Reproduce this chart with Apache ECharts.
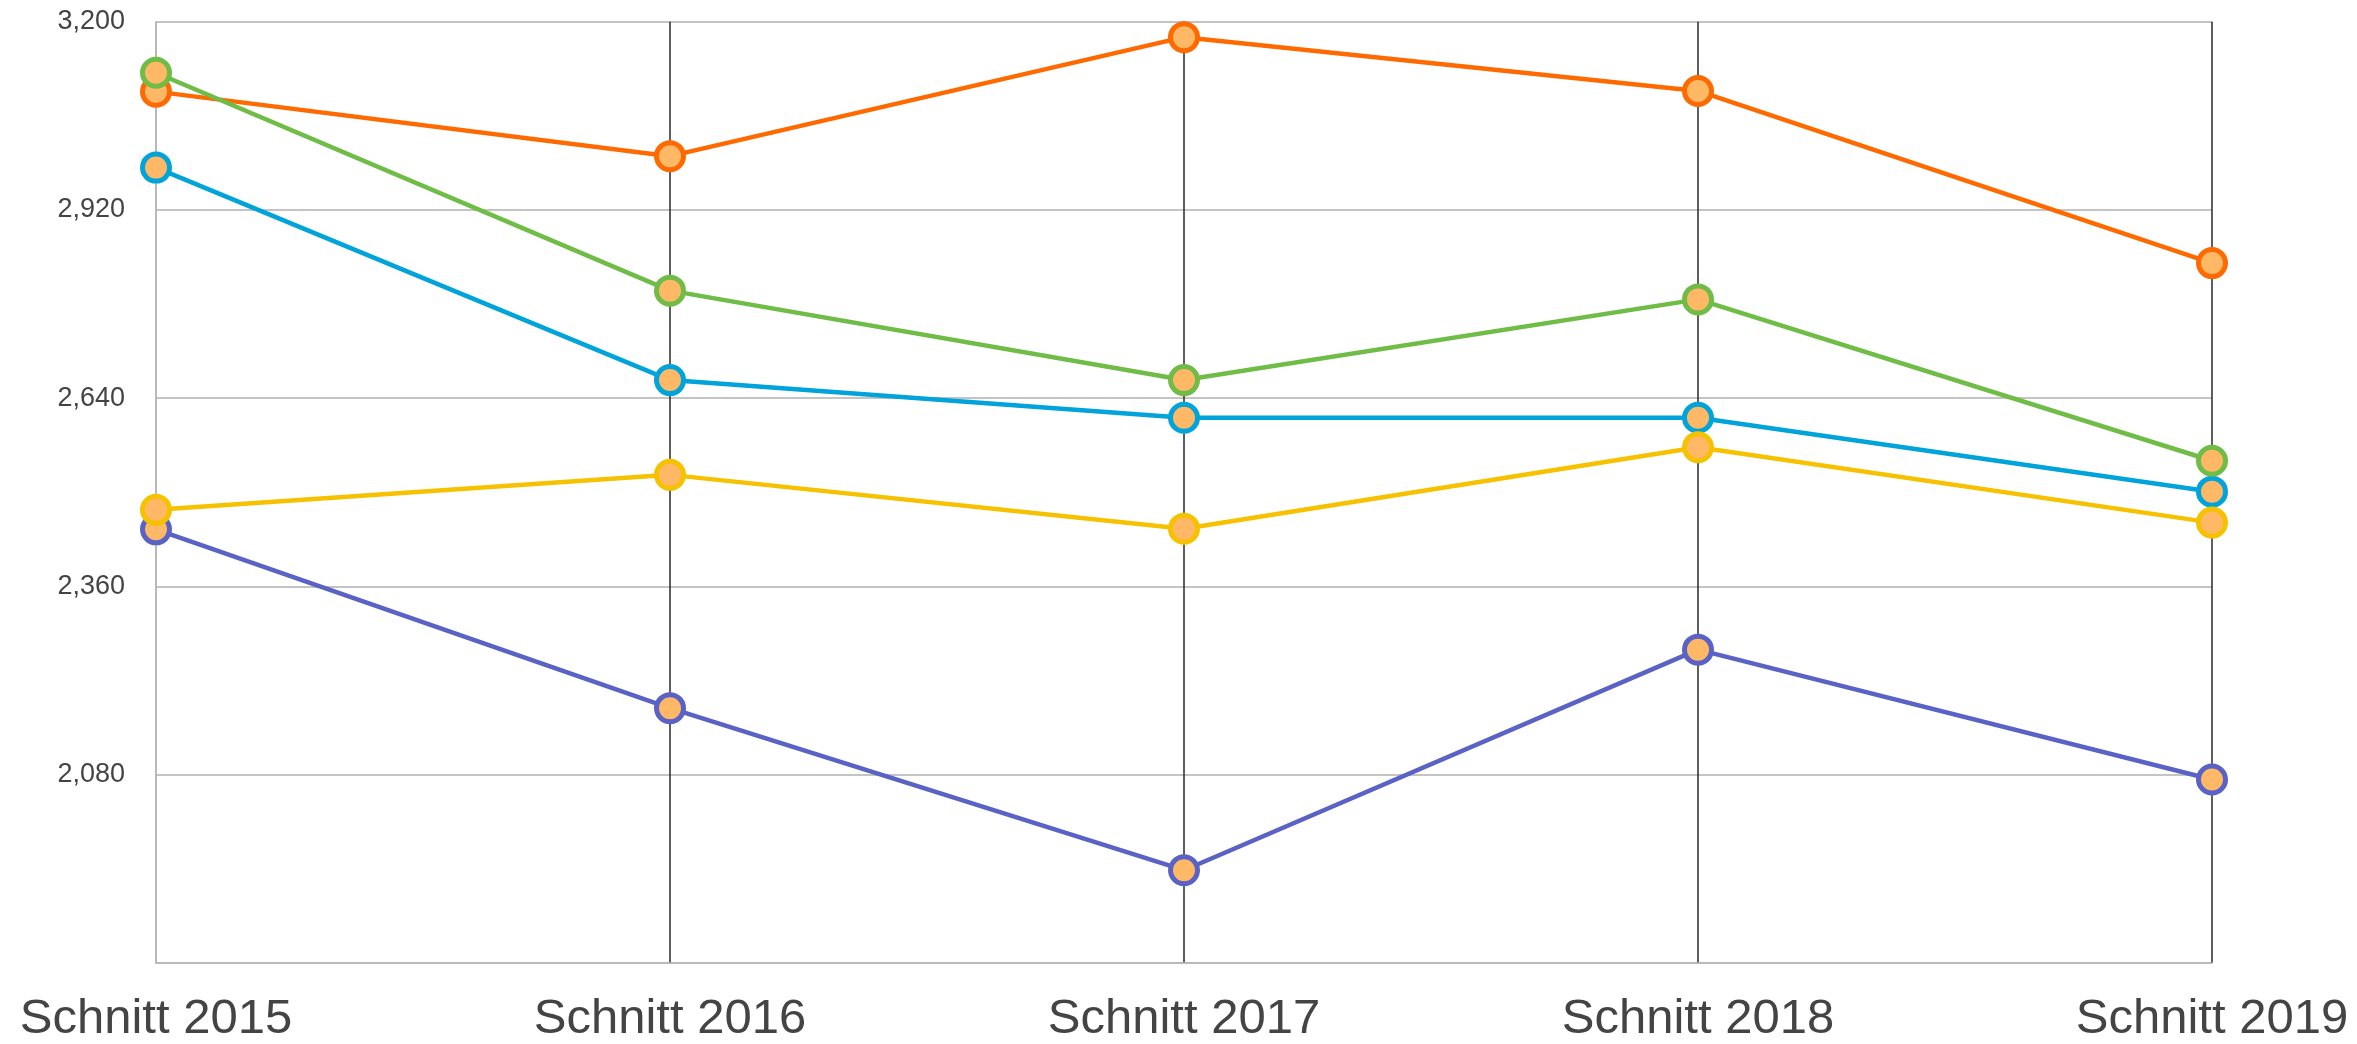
<!DOCTYPE html>
<html>
<head>
<meta charset="utf-8">
<script src="https://cdn.jsdelivr.net/npm/echarts@6/dist/echarts.min.js"></script>
<style>
  html, body { margin: 0; padding: 0; background: #fff; }
  #chart { width: 2357px; height: 1044px; }
</style>
</head>
<body>
<div id="chart"></div>
<script>
const categories = ['Schnitt 2015', 'Schnitt 2016', 'Schnitt 2017', 'Schnitt 2018', 'Schnitt 2019'];
const seriesPurple = [2445, 2179, 1938, 2266, 2073];
const seriesOrange = [3096, 3000, 3177, 3097, 2841];
const seriesBlue   = [2983, 2667, 2611, 2611, 2501];
const seriesYellow = [2474, 2526, 2446, 2567, 2455];
const seriesGreen  = [3124, 2800, 2667, 2787, 2547];
const yMin = 1800, yMax = 3200, yStep = 280;

const chart = echarts.init(document.getElementById('chart'), null, { renderer: 'canvas' });

function mkSeries(name, data, color) {
  return {
    name: name,
    type: 'line',
    data: data,
    symbol: 'circle',
    symbolSize: 27,
    lineStyle: { color: color, width: 4.5 },
    itemStyle: { color: '#ffb866', borderColor: color, borderWidth: 5 },
    emphasis: { disabled: true },
    animation: false
  };
}

chart.setOption({
  animation: false,
  backgroundColor: '#ffffff',
  grid: { left: 156, right: 145, top: 21.7, bottom: 78.3, containLabel: false },
  xAxis: {
    type: 'category',
    data: categories,
    boundaryGap: false,
    axisLine: { show: true, lineStyle: { color: '#b5b5b5', width: 1.5 } },
    axisTick: { show: false },
    axisLabel: {
      interval: 0,
      margin: 32,
      fontSize: 49,
      color: '#444444',
      fontFamily: 'Liberation Sans, Arial, sans-serif'
    },
    splitLine: {
      show: true,
      interval: 0,
      lineStyle: { color: ['#b5b5b5', '#2a2a2a', '#2a2a2a', '#2a2a2a', '#2a2a2a'], width: 1.5 }
    }
  },
  yAxis: {
    type: 'value',
    min: yMin,
    max: yMax,
    interval: yStep,
    axisLine: { show: true, lineStyle: { color: '#b5b5b5', width: 1.5 } },
    axisTick: { show: false },
    axisLabel: {
      margin: 31,
      fontSize: 27,
      color: '#444444',
      fontFamily: 'Liberation Sans, Arial, sans-serif',
      formatter: function (v) { return v === yMin ? '' : v.toLocaleString('en-US'); }
    },
    splitLine: { show: true, lineStyle: { color: '#b0b0b0', width: 1.5 } }
  },
  series: [
    mkSeries('A', seriesPurple, '#5a63c5'),
    mkSeries('B', seriesOrange, '#ff6a00'),
    mkSeries('C', seriesBlue, '#00a3da'),
    mkSeries('D', seriesYellow, '#f6c200'),
    mkSeries('E', seriesGreen, '#6fbc47')
  ]
});
</script>
</body>
</html>
